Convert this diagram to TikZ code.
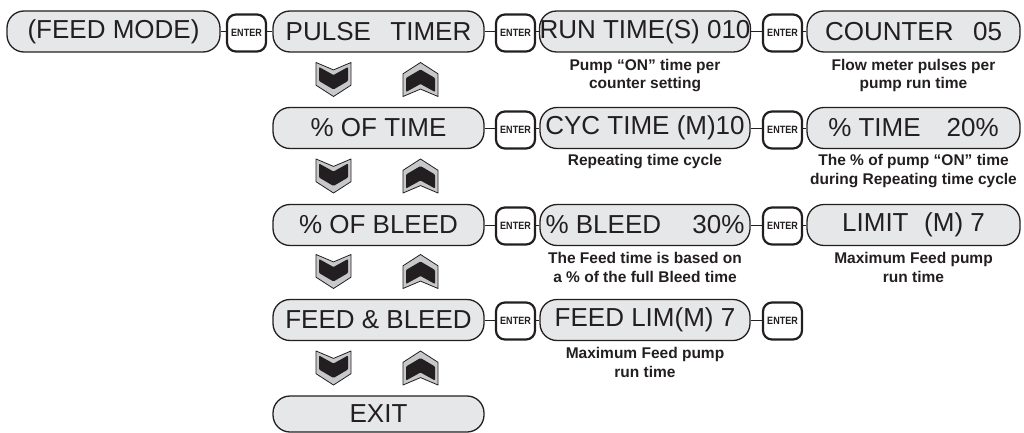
\documentclass[tikz,border=0pt]{standalone}
\usepackage{fontspec}
\setmainfont{Liberation Sans}
\usepackage{graphicx}
\usetikzlibrary{positioning}
\definecolor{ink}{HTML}{231F20}
\definecolor{pillgray}{HTML}{E6E7E8}
\definecolor{chevgray}{HTML}{C7C8CA}
\newcommand{\entertxt}{\scalebox{0.85}[1]{ENTER}}
\begin{document}
\begin{tikzpicture}[x=1pt,y=-1pt,
  pill/.style={draw=ink, line width=1.3pt, fill=pillgray, rounded corners=17pt,
    minimum height=41pt, inner sep=0pt, text=ink, font=\fontsize{26}{30}\selectfont},
  enterbox/.style={draw=ink, line width=2.2pt, fill=white, rounded corners=9pt,
    minimum width=39pt, minimum height=37pt, inner sep=0pt, text=ink,
    font=\bfseries\fontsize{10.6}{12}\selectfont},
  captxt/.style={font=\bfseries\fontsize{15.5}{18.5}\selectfont, align=center,
    inner sep=0pt, text=ink},
  link/.style={draw=ink, line width=1pt},
  chev/.pic={
    \draw[fill=chevgray, draw=ink, line width=0.8pt, line join=round]
      (-17.5,-17) -- (0,-9.6) -- (17.5,-17) -- (17.5,5.7) -- (0,17) -- (-17.5,5.7) -- cycle;
    \fill[ink, rounded corners=1pt]
      (-14.5,-12.5) -- (0,-4.5) -- (14.5,-12.5) -- (14.5,1.5) -- (0,10) -- (-14.5,1.5) -- cycle;
  }
]
\useasboundingbox (0,0) rectangle (1024,433);

% Row 1
\node[pill, minimum width=213pt] (fm) at (113.5,31.5) {(FEED MODE)};
\node[enterbox] (e0) at (246.5,33) {\entertxt};
\node[pill, minimum width=211pt] (pt) at (378.5,31.5) {PULSE\hspace{0.75em}TIMER};
\node[enterbox] (e1) at (515.5,33) {\entertxt};
\node[pill, minimum width=210pt] (rt) at (645,31.5) {RUN TIME(S) 010};
\node[enterbox] (e2) at (782.5,33) {\entertxt};
\node[pill, minimum width=213pt] (ct) at (913.5,31.5) {COUNTER\hspace{0.75em}05};

% Row 2
\node[pill, minimum width=211pt] (ot) at (378.5,128) {\% OF TIME};
\node[enterbox] (e3) at (515.5,130) {\entertxt};
\node[pill, minimum width=210pt] (cy) at (645,128) {CYC TIME (M)10};
\node[enterbox] (e4) at (782.5,130) {\entertxt};
\node[pill, minimum width=213pt] (pc) at (913.5,128) {\% TIME\hspace{1.0em}20\%};

% Row 3
\node[pill, minimum width=211pt] (ob) at (378.5,225) {\% OF BLEED};
\node[enterbox] (e5) at (515.5,226) {\entertxt};
\node[pill, minimum width=210pt] (pb) at (645,225) {\% BLEED\hspace{1.2em}30\%};
\node[enterbox] (e6) at (782.5,226) {\entertxt};
\node[pill, minimum width=213pt] (lm) at (913.5,225) {LIMIT\hspace{0.6em}(M) 7};

% Row 4
\node[pill, minimum width=211pt] (fb) at (378.5,320) {FEED \& BLEED};
\node[enterbox] (e7) at (515.5,321) {\entertxt};
\node[pill, minimum width=210pt] (fl) at (645,320) {FEED LIM(M) 7};
\node[enterbox] (e8) at (782.5,321) {\entertxt};

% Row 5
\node[pill, minimum width=211pt, minimum height=36pt] (ex) at (378.5,414) {EXIT};

% connectors
\draw[link] (fm.east) -- (fm.east -| e0.west);
\draw[link] (e0.east |- pt.west) -- (pt.west);
\draw[link] (pt.east) -- (pt.east -| e1.west);
\draw[link] (e1.east |- rt.west) -- (rt.west);
\draw[link] (rt.east) -- (rt.east -| e2.west);
\draw[link] (e2.east |- ct.west) -- (ct.west);

\draw[link] (ot.east) -- (ot.east -| e3.west);
\draw[link] (e3.east |- cy.west) -- (cy.west);
\draw[link] (cy.east) -- (cy.east -| e4.west);
\draw[link] (e4.east |- pc.west) -- (pc.west);

\draw[link] (ob.east) -- (ob.east -| e5.west);
\draw[link] (e5.east |- pb.west) -- (pb.west);
\draw[link] (pb.east) -- (pb.east -| e6.west);
\draw[link] (e6.east |- lm.west) -- (lm.west);

\draw[link] (fb.east) -- (fb.east -| e7.west);
\draw[link] (e7.east |- fl.west) -- (fl.west);
\draw[link] (fl.east) -- (fl.east -| e8.west);

% captions
\node[captxt, below=6pt of rt] (c1) {Pump “ON” time per\\counter setting};
\node[captxt, below=6pt of ct] (c2) {Flow meter pulses per\\pump run time};
\node[captxt, below=5pt of cy] (c3) {Repeating time cycle};
\node[captxt, below=5pt of pc] (c4) {The \% of pump “ON” time\\during Repeating time cycle};
\node[captxt, below=6pt of pb] (c5) {The Feed time is based on\\a \% of the full Bleed time};
\node[captxt, below=6pt of lm] (c6) {Maximum Feed pump\\run time};
\node[captxt, below=6pt of fl] (c7) {Maximum Feed pump\\run time};

% chevrons
\foreach \yy in {79.5,176,271.5,368}{
  \pic at (333.5,\yy) {chev};
  \pic[yscale=-1] at (420.5,\yy) {chev};
}
\end{tikzpicture}
\end{document}
